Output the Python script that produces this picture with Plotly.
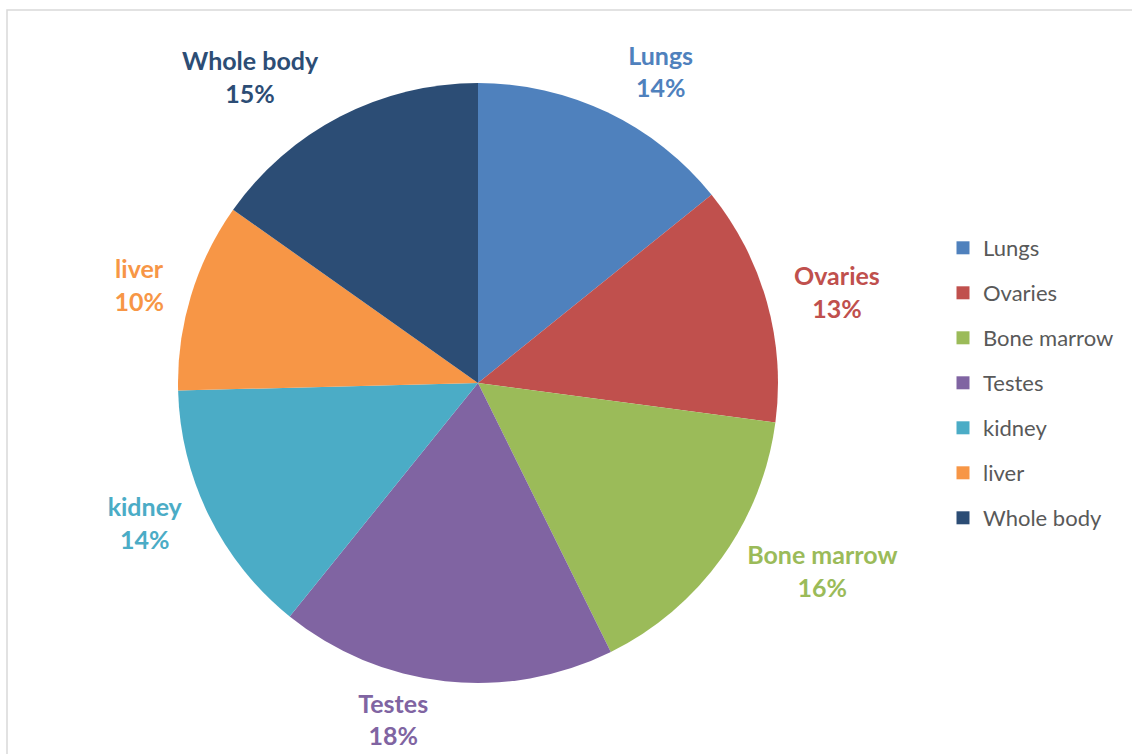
import plotly.graph_objects as go

labels = ["Lungs", "Ovaries", "Bone marrow", "Testes", "kidney", "liver", "Whole body"]
values = [14.2, 12.9, 15.6, 18.1, 13.8, 10.2, 15.2]
colors = ["#4F81BD", "#C0504D", "#9BBB59", "#8064A2", "#4BACC6", "#F79646", "#2C4D75"]

W, H = 1132, 754
CX, CY, R = 478, 383, 300      # pie centre / radius in px
CYL, RL = 378, 312             # centre / radius used to place the outside labels


def dom(cx, cy, r):
    return dict(x=[(cx - r) / W, (cx + r) / W], y=[(H - cy - r) / H, (H - cy + r) / H])


fig = go.Figure()

# label-carrier pie (transparent, slightly larger) so labels sit further out
fig.add_trace(go.Pie(
    labels=labels,
    values=values,
    sort=False,
    direction="clockwise",
    rotation=0,
    marker=dict(colors=["rgba(0,0,0,0)"] * len(labels), line=dict(width=0)),
    texttemplate="%{label}<br>%{percent:.0%}",
    textposition="outside",
    textfont=dict(family="Lato", size=25, color=colors, weight="bold"),
    showlegend=False,
    hoverinfo="skip",
    automargin=False,
    domain=dom(CX, CYL, RL),
))

# visible pie
fig.add_trace(go.Pie(
    labels=labels,
    values=values,
    sort=False,
    direction="clockwise",
    rotation=0,
    marker=dict(colors=colors, line=dict(width=0)),
    textinfo="none",
    showlegend=False,
    hoverinfo="label+percent",
    automargin=False,
    domain=dom(CX, CY, R),
))

for i, (lab, col) in enumerate(zip(labels, colors)):
    fig.add_trace(go.Scatter(
        x=[None], y=[None], mode="markers", name=lab,
        marker=dict(symbol="square", size=13, color=col),
        legendgroup=f"g{i}", showlegend=True,
    ))

fig.update_layout(
    width=W, height=H,
    margin=dict(l=0, r=0, t=0, b=0, autoexpand=False),
    paper_bgcolor="white",
    plot_bgcolor="white",
    xaxis=dict(visible=False),
    yaxis=dict(visible=False),
    legend=dict(
        x=943 / W, xanchor="left",
        y=(H - 227) / H, yanchor="top",
        font=dict(family="Lato", size=22, color="#595959"),
        tracegroupgap=13.4,
        itemwidth=30,
        bgcolor="rgba(0,0,0,0)",
    ),
    shapes=[dict(
        type="rect", xref="paper", yref="paper",
        x0=7 / W, x1=1.02, y0=-0.02, y1=(H - 10) / H,
        line=dict(color="#D9D9D9", width=1.5), layer="below",
    )],
)

fig.write_html("out.html")
